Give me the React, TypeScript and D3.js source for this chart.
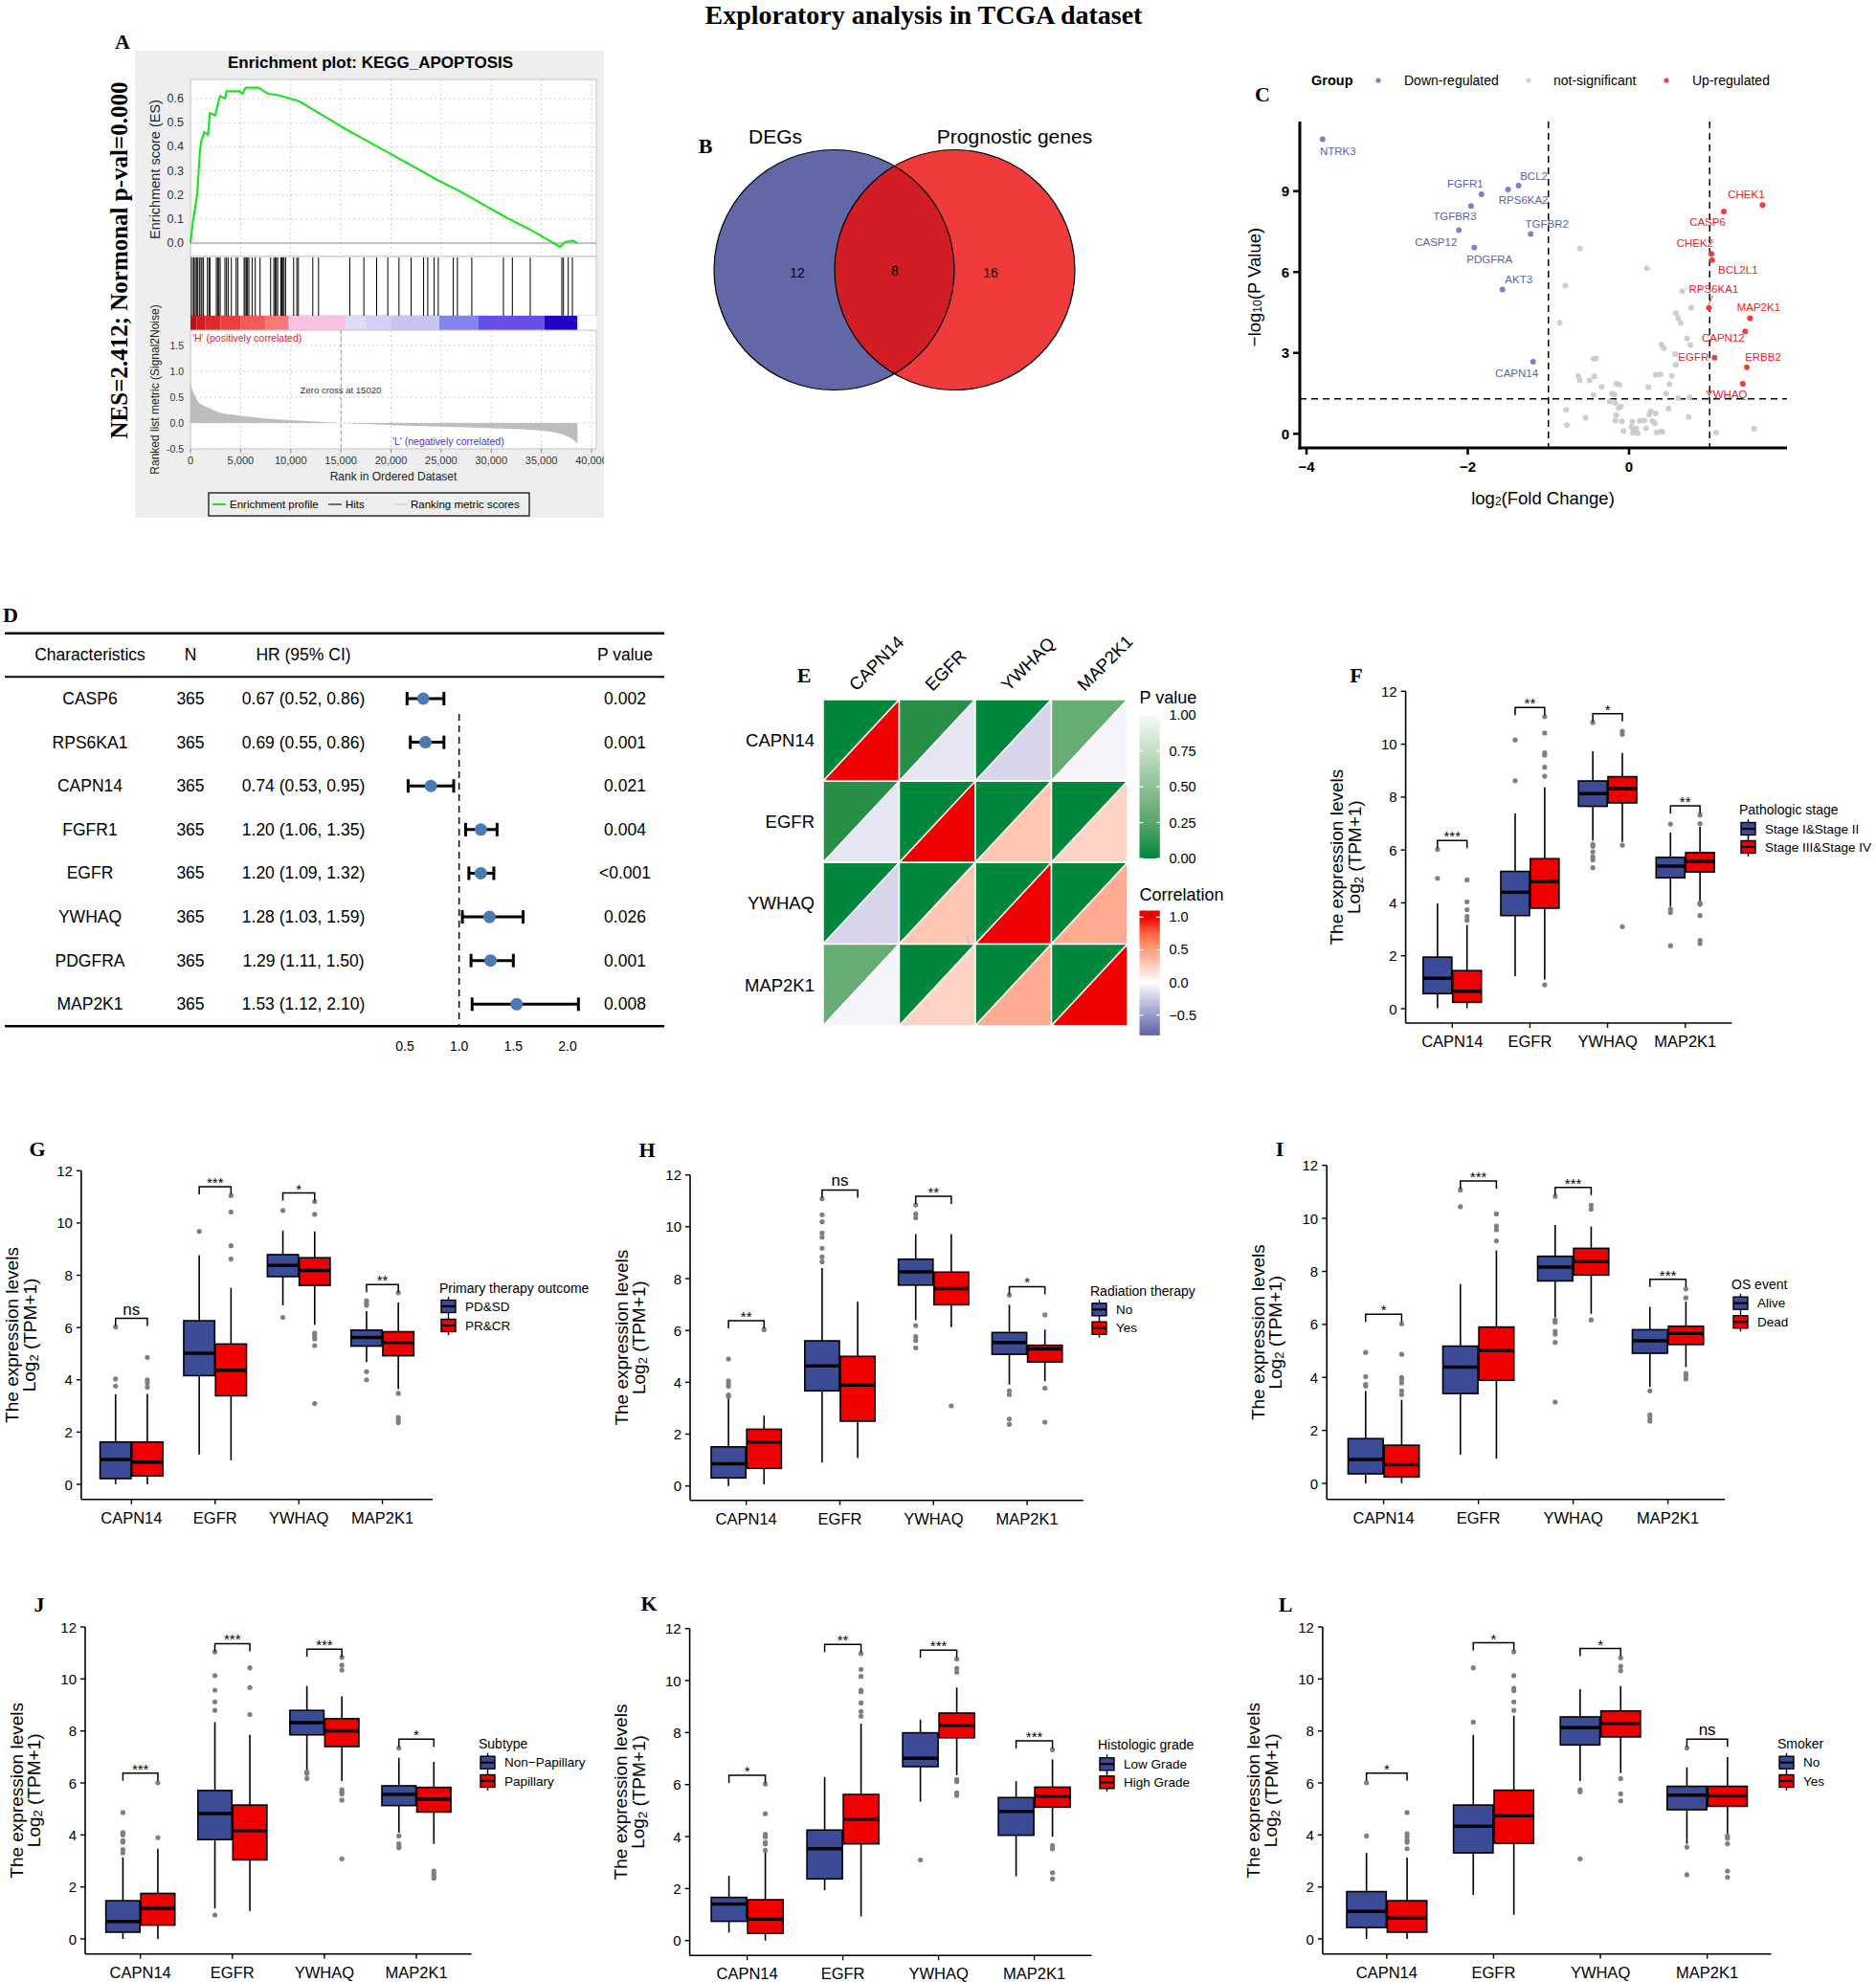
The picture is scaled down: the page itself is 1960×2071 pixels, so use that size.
import React from "react";
import * as d3 from "d3";

const SANS = "'Liberation Sans', Arial, Helvetica, sans-serif";
const SERIF = "'Liberation Serif', 'Times New Roman', Times, serif";

// ---------------- Panel A (GSEA) data ----------------
const esRanks = [0, 250, 400, 670, 890, 1050, 1370, 1750, 1940, 2480, 2800, 2960, 3440, 3600, 4870, 5190, 5500, 6780, 7740, 8700, 9970, 10920, 12520, 15700, 18890, 22070, 24620, 26850, 29080, 31620, 33850, 36880, 37360, 38150, 38560];
const esValues = [0, 0.09, 0.13, 0.2, 0.35, 0.42, 0.46, 0.45, 0.54, 0.53, 0.59, 0.61, 0.6, 0.63, 0.63, 0.62, 0.645, 0.645, 0.62, 0.615, 0.6, 0.587, 0.547, 0.468, 0.395, 0.322, 0.262, 0.216, 0.163, 0.103, 0.057, -0.016, 0.004, 0.01, 0];
const hitRanks = [96, 287, 350, 478, 605, 733, 892, 1051, 1147, 1306, 1688, 1847, 1943, 2580, 2707, 2835, 2962, 3440, 3599, 3758, 4077, 4555, 4714, 5351, 5446, 5574, 5701, 5829, 6147, 6466, 6943, 7994, 8313, 8440, 8568, 8695, 9014, 9109, 9236, 9332, 9491, 10287, 10606, 10765, 12199, 12772, 15893, 17295, 18568, 19683, 20798, 22008, 23250, 23665, 24302, 24716, 26213, 26627, 28060, 31213, 32105, 33888, 37042, 37201, 37679, 38093];
const rankedRanks = [0, 100, 300, 600, 1000, 1500, 2000, 3000, 4000, 5000, 7500, 10000, 12500, 15020, 17500, 20000, 25000, 30000, 33000, 35000, 36500, 37500, 38200, 38600];
const rankedValues = [0.8, 0.7, 0.59, 0.46, 0.37, 0.32, 0.28, 0.2, 0.165, 0.14, 0.09, 0.055, 0.03, 0, -0.02, -0.04, -0.07, -0.1, -0.12, -0.15, -0.19, -0.25, -0.33, -0.4];
const barStarts = [0, 600, 1500, 3000, 5000, 7500, 9800, 15500, 17500, 20000, 24800, 28700, 35300];
const barEnds = [600, 1500, 3000, 5000, 7500, 9800, 15500, 17500, 20000, 24800, 28700, 35300, 38600];
const barColors = ["#b81414", "#d01e1e", "#e02a2a", "#ec4040", "#f45a5a", "#fa7878", "#f9c2e2", "#dcdcf8", "#d2d0f8", "#c8c4f4", "#8484ee", "#6450e6", "#2400c4"];
const esTicks = [0, 0.1, 0.2, 0.3, 0.4, 0.5, 0.6];
const rankTicks = [-0.5, 0, 0.5, 1, 1.5];
const rankAxisTicks = [0, 5000, 10000, 15000, 20000, 25000, 30000, 35000, 40000];

// ---------------- Panel B (Venn) ----------------
const vennSets = ["DEGs", "Prognostic genes"];
const vennCounts = [12, 8, 16];

// ---------------- Panel C (volcano) ----------------
const downGenes = ["NTRK3", "BCL2", "FGFR1", "RPS6KA2", "TGFBR3", "TGFBR2", "CASP12", "PDGFRA", "AKT3", "CAPN14"];
const downFC = [-3.8, -1.37, -1.83, -1.5, -1.96, -1.22, -2.11, -1.92, -1.57, -1.19];
const downP = [10.92, 9.2, 8.88, 9.06, 8.45, 7.41, 7.55, 6.9, 5.35, 2.67];
const upGenes = ["CHEK1", "CASP6", "CHEK2", "BCL2L1", "RPS6KA1", "MAP2K1", "CAPN12", "EGFR", "ERBB2", "YWHAQ"];
const upFC = [1.655, 1.175, 1.02, 1.03, 0.99, 1.5, 1.44, 1.06, 1.46, 1.41];
const upP = [8.48, 8.24, 6.67, 6.44, 4.67, 4.29, 3.8, 2.82, 2.47, 1.86];
const nsFC = [-0.61, 0.22, -0.79, 0.66, 0.77, -0.86, 0.58, 0.61, 0.64, 0.72, 0.76, 0.4, 0.43, 0.57, 0.58, -0.44, -0.41, 0.33, 0.39, 0.53, -0.63, -0.61, -0.43, -0.49, -0.34, -0.16, -0.12, 0.5, 0.24, -0.21, -0.18, 0.46, 0.61, -0.44, -0.24, -0.17, -0.13, -0.1, -0.78, 0.49, 0.27, 0.33, 0.25, 0.74, -0.54, -0.16, -0.17, -0.09, 0.04, 0.13, 0.19, 0.29, 0.32, -0.77, 0.03, 0.09, 0.06, -0.07, 0.21, 0.11, 0.34, 0.4, 0.41, 1.08, 1.55, 0.75, 0.05];
const nsP = [6.87, 6.14, 5.49, 5.29, 4.68, 4.12, 4.47, 4.29, 4.11, 3.53, 3.29, 3.31, 3.18, 2.96, 2.56, 2.78, 2.8, 2.18, 2.2, 2.15, 2.14, 1.98, 2.13, 1.98, 1.74, 1.86, 1.82, 1.84, 1.73, 1.49, 1.45, 1.49, 1.32, 1.44, 1.2, 1.15, 0.96, 1.01, 0.89, 0.93, 0.84, 0.76, 0.71, 0.62, 0.6, 0.69, 0.49, 0.46, 0.45, 0.48, 0.49, 0.47, 0.39, 0.32, 0.26, 0.2, 0.14, 0.11, 0.21, 0.02, 0.05, 0.09, 0.07, 0.05, 0.19, 1.35, 0.04];
const volcanoXTicks = [-4, -2, 0];
const volcanoYTicks = [0, 3, 6, 9];
const fcCut = [-1, 1];
const pCut = 1.3;
const groupNames = ["Down-regulated", "not-significant", "Up-regulated"];

// ---------------- Panel D (forest) ----------------
const forestGenes = ["CASP6", "RPS6KA1", "CAPN14", "FGFR1", "EGFR", "YWHAQ", "PDGFRA", "MAP2K1"];
const forestN = [365, 365, 365, 365, 365, 365, 365, 365];
const forestHR = [0.67, 0.69, 0.74, 1.2, 1.2, 1.28, 1.29, 1.53];
const forestLo = [0.52, 0.55, 0.53, 1.06, 1.09, 1.03, 1.11, 1.12];
const forestHi = [0.86, 0.86, 0.95, 1.35, 1.32, 1.59, 1.5, 2.1];
const forestP = ["0.002", "0.001", "0.021", "0.004", "<0.001", "0.026", "0.001", "0.008"];
const forestTicks = [0.5, 1.0, 1.5, 2.0];

// ---------------- Panel E (correlation) ----------------
const corrGenes = ["CAPN14", "EGFR", "YWHAQ", "MAP2K1"];
const corrP = [
  [0, 0.07, 0, 0.32],
  [0.07, 0, 0, 0],
  [0, 0, 0, 0],
  [0.32, 0, 0, 0],
];
const corrR = [
  [1, -0.12, -0.2, -0.05],
  [-0.12, 1, 0.29, 0.22],
  [-0.2, 0.29, 1, 0.42],
  [-0.05, 0.22, 0.42, 1],
];
const pBarTicks = [0, 0.25, 0.5, 0.75, 1];
const rBarTicks = [-0.5, 0, 0.5, 1];

// ---------------- Boxplot panels F-L ----------------
const boxGenes = ["CAPN14", "EGFR", "YWHAQ", "MAP2K1"];
const boxYTicks = [0, 2, 4, 6, 8, 10, 12];
// stats: [lower whisker, Q1, median, Q3, upper whisker]
const fLow = [[0.02, 0.57, 1.15, 1.95, 3.98], [1.23, 3.52, 4.4, 5.19, 7.38], [6.35, 7.65, 8.13, 8.61, 9.73], [3.85, 4.95, 5.39, 5.72, 6.66]];
const fHigh = [[0.02, 0.24, 0.66, 1.44, 3.16], [1.1, 3.8, 4.81, 5.67, 8.37], [6.3, 7.78, 8.32, 8.77, 9.67], [4.07, 5.17, 5.57, 5.9, 6.88]];
const fLowOut = [[6.02, 4.93], [10.16, 8.62], [10.82, 6.21, 6.14, 5.93, 5.75, 5.63, 5.33], [6.98, 3.76, 3.64, 2.38]];
const fHighOut = [[4.87, 4.04, 3.74, 3.49, 3.34], [11.04, 10.42, 9.67, 9.59, 9.13, 8.79, 0.9], [10.49, 10.37, 6.18, 3.1], [7.32, 7.0, 4.0, 3.94, 3.52, 2.58, 2.46]];
const fSig = ["***", "**", "*", "**"];
const fBracket = [6.36, 11.39, 11.15, 7.67];
const fGroups = ["Stage I&Stage II", "Stage III&Stage IV"];

const gLow = [[0, 0.22, 0.95, 1.62, 3.45], [1.14, 4.16, 5.02, 6.26, 8.77], [6.85, 7.95, 8.38, 8.79, 9.71], [4.68, 5.29, 5.62, 5.9, 6.63]];
const gHigh = [[0, 0.32, 0.85, 1.62, 3.46], [0.92, 3.39, 4.37, 5.37, 7.52], [6.1, 7.61, 8.18, 8.67, 9.68], [3.64, 4.92, 5.43, 5.84, 6.96]];
const gLowOut = [[6.02, 4.03, 3.76], [9.68], [10.48, 6.39], [7.03, 6.94, 6.85, 4.31, 4.0]];
const gHighOut = [[4.86, 4.0, 3.88, 3.72], [11.05, 10.42, 9.13, 8.62], [10.82, 10.33, 5.78, 5.68, 5.57, 5.31, 3.09], [7.33, 3.48, 2.56, 2.45, 2.36]];
const gSig = ["ns", "***", "*", "**"];
const gBracket = [6.35, 11.39, 11.15, 7.64];
const gGroups = ["PD&SD", "PR&CR"];

const hLow = [[0, 0.31, 0.86, 1.51, 3.42], [0.9, 3.67, 4.63, 5.6, 8.41], [6.4, 7.75, 8.26, 8.75, 9.72], [3.91, 5.08, 5.54, 5.92, 6.99]];
const hHigh = [[0.06, 0.68, 1.7, 2.19, 2.71], [1.08, 2.5, 3.89, 5.0, 7.11], [6.13, 6.99, 7.61, 8.25, 9.72], [4.04, 4.78, 5.29, 5.43, 6.03]];
const hLowOut = [[4.9, 4.06, 3.95, 3.85, 3.51, 3.45], [11.08, 10.46, 10.19, 9.76, 9.6, 9.17, 8.84, 8.65], [10.84, 10.5, 10.35, 6.19, 5.76, 5.61, 5.33], [7.36, 3.67, 3.52, 2.58, 2.38]];
const hHighOut = [[6.03], [], [3.09], [6.6, 3.77, 2.46]];
const hSig = ["**", "ns", "**", "*"];
const hBracket = [6.38, 11.42, 11.18, 7.69];
const hGroups = ["No", "Yes"];

const iLow = [[0, 0.36, 0.9, 1.69, 3.49], [1.08, 3.39, 4.39, 5.18, 7.52], [6.26, 7.64, 8.16, 8.57, 9.75], [3.64, 4.91, 5.38, 5.8, 6.66]];
const iHigh = [[0, 0.24, 0.7, 1.44, 3.15], [0.93, 3.89, 5.02, 5.9, 8.79], [6.4, 7.86, 8.37, 8.87, 9.69], [4.39, 5.24, 5.66, 5.93, 6.86]];
const iLowOut = [[4.94, 4.03, 3.73, 3.67], [11.07, 10.44], [10.83, 6.16, 6.08, 5.74, 5.63, 5.32, 3.07], [3.49, 2.59, 2.47, 2.35]];
const iHighOut = [[6.02, 4.87, 4.0, 3.91, 3.79, 3.49, 3.35], [10.17, 9.71, 9.57, 9.15], [10.5, 10.35, 6.17], [7.34, 7.0, 4.15, 4.06, 3.94]];
const iSig = ["*", "***", "***", "***"];
const iBracket = [6.38, 11.41, 11.17, 7.7];
const iGroups = ["Alive", "Dead"];

const jLow = [[0, 0.26, 0.67, 1.47, 3.14], [1.17, 3.82, 4.82, 5.71, 8.34], [6.48, 7.85, 8.32, 8.79, 9.73], [4.09, 5.13, 5.56, 5.89, 6.97]];
const jHigh = [[0, 0.53, 1.18, 1.75, 3.47], [1.08, 3.04, 4.17, 5.15, 7.85], [6.07, 7.4, 8.01, 8.47, 9.33], [3.66, 4.88, 5.37, 5.83, 6.81]];
const jLowOut = [[4.86, 4.09, 4.0, 3.78, 3.72, 3.44, 3.31], [11.04, 10.13, 9.57, 9.12, 8.79, 0.92], [6.42, 6.36, 6.17], [7.34, 3.96, 3.66, 3.56, 3.51]];
const jHighOut = [[6.01, 3.9], [10.43, 9.67, 8.63], [10.83, 10.53, 10.34, 5.74, 5.66, 5.58, 5.34, 3.08], [2.61, 2.52, 2.43, 2.34]];
const jSig = ["***", "***", "***", "*"];
const jBracket = [6.38, 11.36, 11.14, 7.68];
const jGroups = ["Non\u2212Papillary", "Papillary"];

const kLow = [[0.31, 0.74, 1.41, 1.66, 2.49], [1.94, 2.37, 3.53, 4.25, 6.29], [5.34, 6.69, 7.01, 7.99, 8.5], [2.47, 4.05, 4.97, 5.5, 6.13]];
const kHigh = [[0, 0.28, 0.83, 1.57, 3.5], [0.93, 3.72, 4.67, 5.62, 8.34], [6.36, 7.8, 8.28, 8.75, 9.73], [3.99, 5.13, 5.56, 5.9, 6.97]];
const kLowOut = [[], [], [3.1], []];
const kHighOut = [[6.02, 4.88, 4.09, 3.99, 3.78, 3.72, 3.47], [11.04, 10.43, 10.16, 9.63, 9.57, 9.14, 8.81, 8.63], [10.83, 10.47, 10.32, 6.2, 6.11, 5.68, 5.58], [7.34, 3.66, 3.53, 2.61, 2.37]];
const kSig = ["*", "**", "***", "***"];
const kBracket = [6.36, 11.39, 11.17, 7.68];
const kGroups = ["Low Grade", "High Grade"];

const lLow = [[0, 0.44, 1.06, 1.82, 3.31], [1.69, 3.31, 4.33, 5.15, 7.85], [6.07, 7.46, 8.13, 8.54, 9.61], [3.66, 4.97, 5.53, 5.87, 6.6]];
const lHigh = [[0, 0.26, 0.8, 1.47, 3.13], [0.93, 3.68, 4.74, 5.72, 8.59], [6.38, 7.77, 8.29, 8.77, 9.73], [4.02, 5.1, 5.5, 5.87, 6.99]];
const lLowOut = [[6.01, 3.96], [10.43, 8.34], [5.74, 5.66, 3.08], [7.34, 3.53, 2.47]];
const lHighOut = [[4.86, 4.05, 3.93, 3.8, 3.72, 3.47], [11.04, 10.13, 9.64, 9.55, 9.12, 8.79], [10.81, 10.49, 10.32, 6.17, 5.58, 5.31], [3.96, 3.87, 3.66, 2.61, 2.37]];
const lSig = ["*", "*", "*", "ns"];
const lBracket = [6.38, 11.39, 11.17, 7.68];
const lGroups = ["No", "Yes"];

const BLUE = "#3c4b95";
const RED = "#ee0000";

type BoxCfg = {
  letter: string; lx: number; ly: number;
  axisX: number; topY: number; zeroY: number; bottomY: number; rightX: number;
  legX: number; legTitleY: number; legKeyY: number[];
  legendTitle: string; groups: string[];
  low: number[][]; high: number[][]; lowOut: number[][]; highOut: number[][];
  sig: string[]; bracket: number[];
};

const boxPanels: BoxCfg[] = [
  { letter: "F", lx: 1417, ly: 705, axisX: 1468.6, topY: 722.3, zeroY: 1054, bottomY: 1069, rightX: 1809.4, legX: 1817, legTitleY: 846, legKeyY: [866, 885], legendTitle: "Pathologic stage", groups: fGroups, low: fLow, high: fHigh, lowOut: fLowOut, highOut: fHighOut, sig: fSig, bracket: fBracket },
  { letter: "G", lx: 39, ly: 1200, axisX: 84.9, topY: 1223.3, zeroY: 1551, bottomY: 1566.7, rightX: 452, legX: 459, legTitleY: 1345.7, legKeyY: [1365, 1385], legendTitle: "Primary therapy outcome", groups: gGroups, low: gLow, high: gHigh, lowOut: gLowOut, highOut: gHighOut, sig: gSig, bracket: gBracket },
  { letter: "H", lx: 676, ly: 1201, axisX: 721, topY: 1227.7, zeroY: 1552.7, bottomY: 1567.7, rightX: 1131.8, legX: 1139, legTitleY: 1349, legKeyY: [1368.3, 1387.7], legendTitle: "Radiation therapy", groups: hGroups, low: hLow, high: hHigh, lowOut: hLowOut, highOut: hHighOut, sig: hSig, bracket: hBracket },
  { letter: "I", lx: 1337, ly: 1200, axisX: 1386.2, topY: 1217.7, zeroY: 1550, bottomY: 1566.7, rightX: 1802, legX: 1809, legTitleY: 1341.7, legKeyY: [1361.7, 1381.3], legendTitle: "OS event", groups: iGroups, low: iLow, high: iHigh, lowOut: iLowOut, highOut: iHighOut, sig: iSig, bracket: iBracket },
  { letter: "J", lx: 41, ly: 1676, axisX: 89, topY: 1700, zeroY: 2026, bottomY: 2041.7, rightX: 492.7, legX: 500, legTitleY: 1821.7, legKeyY: [1841.7, 1861], legendTitle: "Subtype", groups: jGroups, low: jLow, high: jHigh, lowOut: jLowOut, highOut: jHighOut, sig: jSig, bracket: jBracket },
  { letter: "K", lx: 678, ly: 1675, axisX: 720.6, topY: 1701.7, zeroY: 2027.7, bottomY: 2043.3, rightX: 1140.6, legX: 1147, legTitleY: 1823.3, legKeyY: [1843.3, 1862.3], legendTitle: "Histologic grade", groups: kGroups, low: kLow, high: kHigh, lowOut: kLowOut, highOut: kHighOut, sig: kSig, bracket: kBracket },
  { letter: "L", lx: 1343, ly: 1676, axisX: 1381.9, topY: 1700, zeroY: 2026, bottomY: 2041.7, rightX: 1850.6, legX: 1857, legTitleY: 1821.7, legKeyY: [1841.7, 1861], legendTitle: "Smoker", groups: lGroups, low: lLow, high: lHigh, lowOut: lLowOut, highOut: lHighOut, sig: lSig, bracket: lBracket },
];

function Letter({ x, y, t }: { x: number; y: number; t: string }) {
  return (
    <text x={x} y={y} fontFamily={SERIF} fontWeight="bold" fontSize={22} textAnchor="middle" dominantBaseline="central">{t}</text>
  );
}

// ---------------- Panel A ----------------
function PanelA() {
  const L = 199, R = 623;
  const x = d3.scaleLinear().domain([0, 40000]).range([199, 618]);
  const yEs = d3.scaleLinear().domain([0, 0.6]).range([254, 103]);
  const yRk = d3.scaleLinear().domain([-0.5, 1.5]).range([469, 361]);
  const esLine = d3.line<number>().x((_, i) => x(esRanks[i])).y((d) => yEs(d));
  const area = d3.area<number>().x((_, i) => x(rankedRanks[i])).y0(yRk(0)).y1((d) => yRk(d)).curve(d3.curveMonotoneX);
  const fmt = d3.format(",");
  const gridC = "#cfcfcf";
  return (
    <g fontFamily={SANS}>
      <clipPath id="clipA"><rect x={141} y={53} width={490} height={488} /></clipPath>
      <g clipPath="url(#clipA)">
        <rect x={141} y={53} width={490} height={488} fill="#eeeeee" />
        <text x={387} y={71} textAnchor="middle" fontWeight="bold" fontSize={17}>Enrichment plot: KEGG_APOPTOSIS</text>
        <rect x={L} y={83} width={R - L} height={185} fill="#fff" stroke="#c4c4c4" />
        {rankAxisTicks.map((t) => (
          <line key={"gv" + t} x1={x(t)} x2={x(t)} y1={83} y2={268} stroke={gridC} strokeDasharray="2,3" />
        ))}
        {esTicks.map((t) => (
          <line key={"gh" + t} x1={L} x2={R} y1={yEs(t)} y2={yEs(t)} stroke={t === 0 ? "#888" : gridC} strokeDasharray={t === 0 ? undefined : "2,3"} />
        ))}
        <path d={esLine(esValues) || ""} fill="none" stroke="#22e022" strokeWidth={2.2} />
        {esTicks.map((t) => (
          <text key={"et" + t} x={192} y={yEs(t)} textAnchor="end" dominantBaseline="central" fontSize={12.5} fill="#333">{t.toFixed(1)}</text>
        ))}
        <text transform={`translate(162,177) rotate(-90)`} textAnchor="middle" dominantBaseline="central" fontSize={14.5} fill="#222">Enrichment score (ES)</text>
        <rect x={L} y={268} width={R - L} height={62} fill="#fff" stroke="#c4c4c4" />
        {hitRanks.map((h, i) => (
          <line key={"h" + i} x1={x(h)} x2={x(h)} y1={269} y2={330} stroke="#000" strokeWidth={1} />
        ))}
        {barStarts.map((s, i) => (
          <rect key={"b" + i} x={x(s)} y={330} width={x(barEnds[i]) - x(s)} height={15} fill={barColors[i]} />
        ))}
        <rect x={x(38600)} y={330} width={R - x(38600)} height={15} fill="#fff" />
        <rect x={L} y={345} width={R - L} height={124} fill="#fff" stroke="#c4c4c4" />
        {rankAxisTicks.map((t) => (
          <line key={"rv" + t} x1={x(t)} x2={x(t)} y1={345} y2={469} stroke={gridC} strokeDasharray="2,3" />
        ))}
        {rankTicks.map((t) => (
          <line key={"rh" + t} x1={L} x2={R} y1={yRk(t)} y2={yRk(t)} stroke={gridC} strokeDasharray="2,3" />
        ))}
        <path d={area(rankedValues) || ""} fill="#bdbdbd" />
        <line x1={x(15020)} x2={x(15020)} y1={345} y2={469} stroke="#999" strokeDasharray="4,3" />
        <text x={356} y={407} textAnchor="middle" dominantBaseline="central" fontSize={9.5} fill="#333">Zero cross at 15020</text>
        <text x={201} y={353} dominantBaseline="central" fontSize={10.5} fill="#e82020">'H' (positively correlated)</text>
        <text x={410} y={461} dominantBaseline="central" fontSize={10.5} fill="#3535e8">'L' (negatively correlated)</text>
        {rankTicks.map((t) => (
          <text key={"rt" + t} x={192} y={yRk(t)} textAnchor="end" dominantBaseline="central" fontSize={10.5} fill="#333">{t.toFixed(1)}</text>
        ))}
        <text transform={`translate(162,407) rotate(-90)`} textAnchor="middle" dominantBaseline="central" fontSize={12} fill="#222">Ranked list metric (Signal2Noise)</text>
        {rankAxisTicks.map((t) => (
          <g key={"xt" + t}>
            <line x1={x(t)} x2={x(t)} y1={469} y2={473} stroke="#888" />
            <text x={x(t)} y={481} textAnchor="middle" dominantBaseline="central" fontSize={11} fill="#333">{fmt(t)}</text>
          </g>
        ))}
        <text x={411} y={498} textAnchor="middle" dominantBaseline="central" fontSize={12} fill="#222">Rank in Ordered Dataset</text>
        <rect x={218} y={515} width={335} height={24} fill="none" stroke="#000" strokeWidth={1.2} />
        <line x1={222} x2={236} y1={527} y2={527} stroke="#22e022" strokeWidth={2} />
        <text x={240} y={527} dominantBaseline="central" fontSize={11.5}>Enrichment profile</text>
        <line x1={343} x2={357} y1={527} y2={527} stroke="#444" strokeWidth={1.5} />
        <text x={361} y={527} dominantBaseline="central" fontSize={11.5}>Hits</text>
        <line x1={412} x2={425} y1={527} y2={527} stroke="#d0d0d0" strokeWidth={1.5} />
        <text x={429} y={527} dominantBaseline="central" fontSize={11.5}>Ranking metric scores</text>
      </g>
      <text transform={`translate(124,272) rotate(-90)`} textAnchor="middle" dominantBaseline="central" fontFamily={SERIF} fontWeight="bold" fontSize={25}>NES=2.412; Normonal p-val=0.000</text>
      <Letter x={128} y={43} t="A" />
    </g>
  );
}

// ---------------- Panel B ----------------
function PanelB() {
  const cx = d3.scaleLinear().domain([0, 1]).range([871.5, 997.5]);
  const r = 125.5, cy = 282;
  return (
    <g fontFamily={SANS}>
      <Letter x={737} y={152} t="B" />
      <clipPath id="vennLeft"><circle cx={cx(0)} cy={cy} r={r} /></clipPath>
      <circle cx={cx(0)} cy={cy} r={r} fill="#6167a7" />
      <circle cx={cx(1)} cy={cy} r={r} fill="#ef3b3b" />
      <circle cx={cx(1)} cy={cy} r={r} fill="#d21d25" clipPath="url(#vennLeft)" />
      <circle cx={cx(0)} cy={cy} r={r} fill="none" stroke="#000" strokeWidth={1.2} />
      <circle cx={cx(1)} cy={cy} r={r} fill="none" stroke="#000" strokeWidth={1.2} />
      <text x={810} y={142} textAnchor="middle" dominantBaseline="central" fontSize={21}>{vennSets[0]}</text>
      <text x={1060} y={142} textAnchor="middle" dominantBaseline="central" fontSize={21}>{vennSets[1]}</text>
      <text x={833} y={285} textAnchor="middle" dominantBaseline="central" fontSize={14}>{vennCounts[0]}</text>
      <text x={935} y={283} textAnchor="middle" dominantBaseline="central" fontSize={14}>{vennCounts[1]}</text>
      <text x={1035} y={285} textAnchor="middle" dominantBaseline="central" fontSize={14}>{vennCounts[2]}</text>
    </g>
  );
}

// ---------------- Panel C ----------------
const downLabelOff: Record<string, [number, number]> = {
  NTRK3: [16, 12], BCL2: [16, -10], FGFR1: [-17, -11], RPS6KA2: [16, 11], TGFBR3: [-17, 11],
  TGFBR2: [17, -11], CASP12: [-24, 12], PDGFRA: [16, 12], AKT3: [17, -11], CAPN14: [-17, 12],
};
const upLabelOff: Record<string, [number, number]> = {
  CHEK1: [-17, -11], CASP6: [-17, 11], CHEK2: [-17, -11], BCL2L1: [27, 10], RPS6KA1: [5, -20],
  MAP2K1: [9, -11], CAPN12: [-23, 7], EGFR: [-22, -1], ERBB2: [17, -11], YWHAQ: [-17, 11],
};

function PanelC() {
  const x = d3.scaleLinear().domain([-4, 0]).range([1365, 1702]);
  const y = d3.scaleLinear().domain([0, 9]).range([453.3, 199.7]);
  const left = 1358, right = 1867, top = 127, bottom = 468;
  const fmt = d3.format("d");
  const dCol = "#7b82c2", dTxt = "#5a63aa", uCol = "#f03c3c", uTxt = "#ee1c1c";
  return (
    <g fontFamily={SANS}>
      <Letter x={1319} y={98} t="C" />
      <text x={1370} y={84} dominantBaseline="central" fontSize={14.5} fontWeight="bold">Group</text>
      <circle cx={1440} cy={84} r={2.6} fill={dCol} />
      <text x={1467} y={84} dominantBaseline="central" fontSize={14}>{groupNames[0]}</text>
      <circle cx={1597} cy={84} r={2.6} fill="#d0d0d0" />
      <text x={1623} y={84} dominantBaseline="central" fontSize={14}>{groupNames[1]}</text>
      <circle cx={1741} cy={84} r={2.6} fill={uCol} />
      <text x={1768} y={84} dominantBaseline="central" fontSize={14}>{groupNames[2]}</text>

      {fcCut.map((c) => (
        <line key={"fc" + c} x1={x(c)} x2={x(c)} y1={top} y2={bottom} stroke="#000" strokeWidth={1.5} strokeDasharray="7,5" />
      ))}
      <line x1={left} x2={right} y1={y(pCut)} y2={y(pCut)} stroke="#000" strokeWidth={1.5} strokeDasharray="7,5" />

      {nsFC.map((v, i) => (
        <circle key={"ns" + i} cx={x(v)} cy={y(nsP[i])} r={3} fill="#c9c9c9" opacity={0.9} />
      ))}
      {downGenes.map((g, i) => {
        const px = x(downFC[i]), py = y(downP[i]);
        const o = downLabelOff[g];
        return (
          <g key={"d" + g}>
            <circle cx={px} cy={py} r={3} fill={dCol} />
            <text x={px + o[0]} y={py + o[1]} textAnchor="middle" dominantBaseline="central" fontSize={11.5} fill={dTxt}>{g}</text>
          </g>
        );
      })}
      {upGenes.map((g, i) => {
        const px = x(upFC[i]), py = y(upP[i]);
        const o = upLabelOff[g];
        return (
          <g key={"u" + g}>
            <circle cx={px} cy={py} r={3} fill={uCol} />
            {g === "RPS6KA1" && <line x1={px} y1={py - 3} x2={px + 4} y2={py - 13} stroke={uTxt} strokeWidth={0.8} />}
            <text x={px + o[0]} y={py + o[1]} textAnchor="middle" dominantBaseline="central" fontSize={11.5} fill={uTxt}>{g}</text>
          </g>
        );
      })}

      <line x1={left} x2={left} y1={top} y2={bottom + 1.5} stroke="#000" strokeWidth={3} />
      <line x1={left - 1.5} x2={right} y1={bottom} y2={bottom} stroke="#000" strokeWidth={3} />
      {volcanoYTicks.map((t) => (
        <g key={"vy" + t}>
          <line x1={left - 7} x2={left} y1={y(t)} y2={y(t)} stroke="#000" strokeWidth={2.5} />
          <text x={left - 11} y={y(t)} textAnchor="end" dominantBaseline="central" fontSize={15} fontWeight="bold">{fmt(t)}</text>
        </g>
      ))}
      {volcanoXTicks.map((t) => (
        <g key={"vx" + t}>
          <line x1={x(t)} x2={x(t)} y1={bottom} y2={bottom + 7} stroke="#000" strokeWidth={2.5} />
          <text x={x(t)} y={487} textAnchor="middle" dominantBaseline="central" fontSize={15} fontWeight="bold">{d3.format("d")(t)}</text>
        </g>
      ))}
      <text transform={`translate(1310,300) rotate(-90)`} textAnchor="middle" dominantBaseline="central" fontSize={18.5}>
        {"\u2212log"}<tspan dy={4} fontSize={12}>10</tspan><tspan dy={-4}>(P Value)</tspan>
      </text>
      <text x={1612} y={520} textAnchor="middle" dominantBaseline="central" fontSize={18.5}>
        log<tspan dy={4} fontSize={12}>2</tspan><tspan dy={-4}>(Fold Change)</tspan>
      </text>
    </g>
  );
}

// ---------------- Panel D ----------------
function PanelD() {
  const x = d3.scaleLinear().domain([0.5, 2.0]).range([423, 593]);
  const y = d3.scalePoint<string>().domain(forestGenes).range([730, 1049.3]);
  const fs = 17.5;
  return (
    <g fontFamily={SANS} fontSize={fs}>
      <Letter x={11} y={642} t="D" />
      <line x1={5} x2={694} y1={661.7} y2={661.7} stroke="#000" strokeWidth={2.5} />
      <text x={94} y={684} textAnchor="middle" dominantBaseline="central">Characteristics</text>
      <text x={199} y={684} textAnchor="middle" dominantBaseline="central">N</text>
      <text x={317} y={684} textAnchor="middle" dominantBaseline="central">HR (95% CI)</text>
      <text x={653} y={684} textAnchor="middle" dominantBaseline="central">P value</text>
      <line x1={5} x2={694} y1={707.3} y2={707.3} stroke="#000" strokeWidth={2} />
      <line x1={x(1)} x2={x(1)} y1={746} y2={1072} stroke="#000" strokeWidth={1.5} strokeDasharray="7,5" />
      {forestGenes.map((g, i) => {
        const yy = y(g) as number;
        return (
          <g key={g}>
            <text x={94} y={yy} textAnchor="middle" dominantBaseline="central">{g}</text>
            <text x={199} y={yy} textAnchor="middle" dominantBaseline="central">{forestN[i]}</text>
            <text x={317} y={yy} textAnchor="middle" dominantBaseline="central">{`${forestHR[i].toFixed(2)} (${forestLo[i].toFixed(2)}, ${forestHi[i].toFixed(2)})`}</text>
            <text x={653} y={yy} textAnchor="middle" dominantBaseline="central">{forestP[i]}</text>
            <line x1={x(forestLo[i])} x2={x(forestHi[i])} y1={yy} y2={yy} stroke="#000" strokeWidth={3} />
            <line x1={x(forestLo[i])} x2={x(forestLo[i])} y1={yy - 7} y2={yy + 7} stroke="#000" strokeWidth={3} />
            <line x1={x(forestHi[i])} x2={x(forestHi[i])} y1={yy - 7} y2={yy + 7} stroke="#000" strokeWidth={3} />
            <circle cx={x(forestHR[i])} cy={yy} r={6.5} fill="#4a7ab4" />
          </g>
        );
      })}
      <line x1={5} x2={694} y1={1072.3} y2={1072.3} stroke="#000" strokeWidth={2.5} />
      {forestTicks.map((t) => (
        <text key={t} x={x(t)} y={1093} textAnchor="middle" dominantBaseline="central" fontSize={14}>{t.toFixed(1)}</text>
      ))}
    </g>
  );
}

// ---------------- Panel E ----------------
function PanelE() {
  const colX = d3.scaleBand<string>().domain(corrGenes).range([860, 1178]);
  const rowY = d3.scaleBand<string>().domain(corrGenes).range([731, 1071.7]);
  const pCol = d3.scaleLinear<string>().domain([0, 1]).range(["#00873c", "#f6f9f6"]).interpolate(d3.interpolateLab);
  const rCol = d3.scaleLinear<string>().domain([-0.8, 0, 1]).range(["#5d62a8", "#ffffff", "#ee0000"]).interpolate(d3.interpolateLab).clamp(true);
  const pBarY = d3.scaleLinear().domain([0, 1]).range([897, 747]);
  const rBarY = d3.scaleLinear().domain([-0.5, 1]).range([1060.7, 958.3]);
  const rTop = 1.1, rBot = -0.81;
  const rStops = [1.1, 1.0, 0.75, 0.5, 0.25, 0, -0.25, -0.5, -0.81];
  const pStops = [1, 0.75, 0.5, 0.25, 0];
  const bx = 1190.5, bw = 21.3;
  const w = colX.bandwidth(), h = rowY.bandwidth();
  return (
    <g fontFamily={SANS}>
      <Letter x={840} y={705} t="E" />
      <defs>
        <linearGradient id="pGrad" x1="0" y1="0" x2="0" y2="1">
          {pStops.map((v) => (
            <stop key={v} offset={1 - v} stopColor={pCol(v)} />
          ))}
        </linearGradient>
        <linearGradient id="rGrad" x1="0" y1="0" x2="0" y2="1">
          {rStops.map((v) => (
            <stop key={v} offset={(rTop - v) / (rTop - rBot)} stopColor={rCol(v)} />
          ))}
        </linearGradient>
      </defs>
      {corrGenes.map((rg, i) =>
        corrGenes.map((cg, j) => {
          const x0 = colX(cg) as number, y0 = rowY(rg) as number;
          return (
            <g key={rg + cg}>
              <path d={`M${x0},${y0}L${x0 + w},${y0}L${x0},${y0 + h}Z`} fill={pCol(corrP[i][j])} stroke="#fff" strokeWidth={1.5} />
              <path d={`M${x0 + w},${y0}L${x0 + w},${y0 + h}L${x0},${y0 + h}Z`} fill={rCol(corrR[i][j])} stroke="#fff" strokeWidth={1.5} />
            </g>
          );
        })
      )}
      {corrGenes.map((g) => (
        <text key={"r" + g} x={851} y={(rowY(g) as number) + h / 2} textAnchor="end" dominantBaseline="central" fontSize={18.5}>{g}</text>
      ))}
      {corrGenes.map((g) => (
        <text key={"c" + g} transform={`translate(${(colX(g) as number) + w / 2 - 5},723) rotate(-45)`} fontSize={18.5}>{g}</text>
      ))}
      <text x={bx} y={729} dominantBaseline="central" fontSize={18}>P value</text>
      <rect x={bx} y={748} width={bw} height={149} fill="url(#pGrad)" />
      {pBarTicks.map((t) => (
        <g key={"pt" + t}>
          <line x1={bx} x2={bx + 4} y1={pBarY(t)} y2={pBarY(t)} stroke="#fff" strokeWidth={1.2} />
          <line x1={bx + bw - 4} x2={bx + bw} y1={pBarY(t)} y2={pBarY(t)} stroke="#fff" strokeWidth={1.2} />
          <text x={1221.4} y={pBarY(t)} dominantBaseline="central" fontSize={14.5}>{t.toFixed(2)}</text>
        </g>
      ))}
      <text x={bx} y={935} dominantBaseline="central" fontSize={18}>Correlation</text>
      <rect x={bx} y={rBarY(rTop)} width={bw} height={rBarY(rBot) - rBarY(rTop)} fill="url(#rGrad)" />
      {rBarTicks.map((t) => (
        <g key={"rt" + t}>
          <line x1={bx} x2={bx + 4} y1={rBarY(t)} y2={rBarY(t)} stroke="#fff" strokeWidth={1.2} />
          <line x1={bx + bw - 4} x2={bx + bw} y1={rBarY(t)} y2={rBarY(t)} stroke="#fff" strokeWidth={1.2} />
          <text x={1221.4} y={rBarY(t)} dominantBaseline="central" fontSize={14.5}>{d3.format(".1f")(t)}</text>
        </g>
      ))}
    </g>
  );
}

// ---------------- Boxplot panel ----------------
function BoxPanel({ c }: { c: BoxCfg }) {
  const y = d3.scaleLinear().domain([0, 12]).range([c.zeroY, c.topY]);
  const unit = (c.rightX - c.axisX) / 4.2;
  const x = d3.scalePoint<string>().domain(boxGenes).range([c.axisX + 0.6 * unit, c.rightX - 0.6 * unit]);
  const off = 0.19 * unit, hw = 0.185 * unit;
  const stats = [c.low, c.high];
  const outs = [c.lowOut, c.highOut];
  const fills = [BLUE, RED];
  const midY = (c.topY + c.bottomY) / 2;
  return (
    <g fontFamily={SANS}>
      <Letter x={c.lx} y={c.ly} t={c.letter} />
      {boxGenes.map((g, gi) =>
        [0, 1].map((k) => {
          const s = stats[k][gi];
          const cx = (x(g) as number) + (k === 0 ? -off : off);
          return (
            <g key={g + k}>
              <line x1={cx} x2={cx} y1={y(s[0])} y2={y(s[1])} stroke="#000" strokeWidth={1.6} />
              <line x1={cx} x2={cx} y1={y(s[3])} y2={y(s[4])} stroke="#000" strokeWidth={1.6} />
              <rect x={cx - hw} y={y(s[3])} width={2 * hw} height={y(s[1]) - y(s[3])} fill={fills[k]} stroke="#000" strokeWidth={1.6} />
              <line x1={cx - hw} x2={cx + hw} y1={y(s[2])} y2={y(s[2])} stroke="#000" strokeWidth={3.5} />
              {outs[k][gi].map((o, oi) => (
                <circle key={oi} cx={cx} cy={y(o)} r={2.6} fill="#7f7f7f" />
              ))}
            </g>
          );
        })
      )}
      {boxGenes.map((g, gi) => {
        const x1 = (x(g) as number) - off, x2 = (x(g) as number) + off;
        const by = y(c.bracket[gi]);
        const isNs = c.sig[gi] === "ns";
        return (
          <g key={"sig" + g}>
            <path d={`M${x1},${by + 8}V${by}H${x2}V${by + 8}`} fill="none" stroke="#000" strokeWidth={1.5} />
            <text x={(x1 + x2) / 2} y={isNs ? by - 4 : by + 1} textAnchor="middle" fontSize={isNs ? 17 : 15}>{c.sig[gi]}</text>
          </g>
        );
      })}
      <line x1={c.axisX} x2={c.axisX} y1={c.topY} y2={c.bottomY} stroke="#000" strokeWidth={1.6} />
      <line x1={c.axisX} x2={c.rightX} y1={c.bottomY} y2={c.bottomY} stroke="#000" strokeWidth={1.6} />
      {boxYTicks.map((t) => (
        <g key={"yt" + t}>
          <line x1={c.axisX - 5} x2={c.axisX} y1={y(t)} y2={y(t)} stroke="#000" strokeWidth={1.4} />
          <text x={c.axisX - 9} y={y(t)} textAnchor="end" dominantBaseline="central" fontSize={15}>{t}</text>
        </g>
      ))}
      {boxGenes.map((g) => (
        <g key={"xt" + g}>
          <line x1={x(g) as number} x2={x(g) as number} y1={c.bottomY} y2={c.bottomY + 5} stroke="#000" strokeWidth={1.4} />
          <text x={x(g) as number} y={c.bottomY + 19} textAnchor="middle" dominantBaseline="central" fontSize={16.5}>{g}</text>
        </g>
      ))}
      <text transform={`translate(${c.axisX - 72},${midY}) rotate(-90)`} textAnchor="middle" dominantBaseline="central" fontSize={19}>The expression levels</text>
      <text transform={`translate(${c.axisX - 54},${midY}) rotate(-90)`} textAnchor="middle" dominantBaseline="central" fontSize={19}>
        Log<tspan dy={4} fontSize={13}>2</tspan><tspan dy={-4}> (TPM+1)</tspan>
      </text>
      <text x={c.legX} y={c.legTitleY} dominantBaseline="central" fontSize={14}>{c.legendTitle}</text>
      {c.groups.map((gname, k) => {
        const ky = c.legKeyY[k], kx = c.legX + 2;
        return (
          <g key={gname}>
            <line x1={kx + 7.5} x2={kx + 7.5} y1={ky - 10} y2={ky + 10} stroke="#000" strokeWidth={1.4} />
            <rect x={kx} y={ky - 6.5} width={15} height={13} fill={fills[k]} stroke="#000" strokeWidth={1.4} />
            <line x1={kx} x2={kx + 15} y1={ky} y2={ky} stroke="#000" strokeWidth={2.2} />
            <text x={c.legX + 27} y={ky} dominantBaseline="central" fontSize={13.5}>{gname}</text>
          </g>
        );
      })}
    </g>
  );
}

export default function App() {
  return (
    <svg width={1960} height={2071} xmlns="http://www.w3.org/2000/svg" style={{ position: "absolute", left: 0, top: 0, display: "block" }}>
      <rect x={0} y={0} width={1960} height={2071} fill="#fff" />
      <text x={965} y={25} textAnchor="middle" fontFamily={SERIF} fontWeight="bold" fontSize={28}>Exploratory analysis in TCGA dataset</text>
      <PanelA />
      <PanelB />
      <PanelC />
      <PanelD />
      <PanelE />
      {boxPanels.map((c) => (
        <BoxPanel key={c.letter} c={c} />
      ))}
    </svg>
  );
}
